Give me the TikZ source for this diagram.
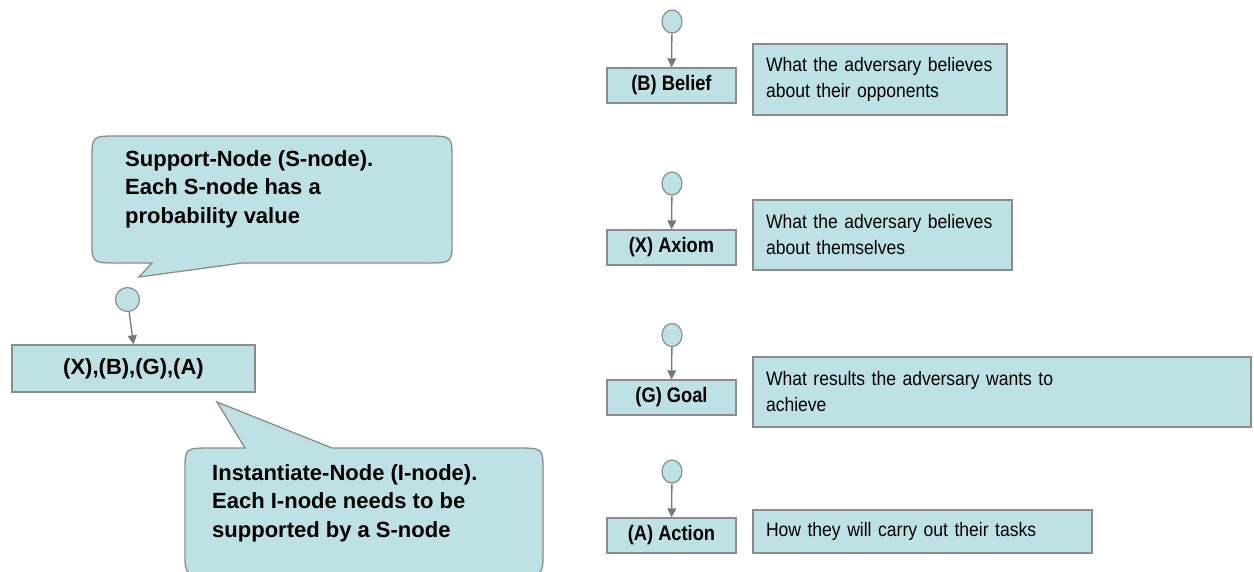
\documentclass[tikz,border=0pt]{standalone}
\usepackage{fontspec}
\setmainfont{Liberation Sans}
\newfontfamily\descfont{Liberation Sans}[FakeStretch=0.90]
\newfontfamily\lblfont{Liberation Sans}[FakeStretch=0.87]
\usetikzlibrary{arrows.meta,shapes.geometric}
\definecolor{boxfill}{RGB}{190,225,229}
\definecolor{boxline}{RGB}{140,140,140}
\definecolor{arrgray}{RGB}{120,120,120}
\hyphenpenalty=10000
\exhyphenpenalty=10000
\begin{document}
\begin{tikzpicture}[x=1pt,y=-1pt,
  lblbox/.style={draw=boxline, fill=boxfill, line width=1.3pt, minimum width=129pt,
    minimum height=35pt, inner sep=0pt, font=\lblfont\bfseries\fontsize{21}{24}\selectfont},
  descbox/.style={draw=boxline, fill=boxfill, line width=1.3pt, inner xsep=13pt,
    inner ysep=0pt, align=left, font=\descfont\fontsize{19.5}{26}\selectfont},
  snode/.style={ellipse, draw=boxline, fill=boxfill, line width=1.2pt,
    minimum width=20pt, minimum height=23pt, inner sep=0pt},
  arr/.style={draw=arrgray, line width=1.3pt, -{Triangle[length=9pt,width=9pt]}},
  bubble/.style={draw=boxline, fill=boxfill, line width=1.3pt},
  calltext/.style={inner sep=0pt, align=left, font=\bfseries\fontsize{22}{28.5}\selectfont}
]
\path[use as bounding box, fill=white] (0,0) rectangle (1254,571);

% callout bubbles
\path[bubble] (152,263) -- (119,263) .. controls (92,263) .. (92,241) -- (92,158)
  .. controls (92,136) .. (119,136) -- (425,136) .. controls (452,136) .. (452,158)
  -- (452,241) .. controls (452,263) .. (425,263) -- (242,263) -- (139,277) -- cycle;
\node[calltext, anchor=west] (stext) at (125,189)
  {Support-Node (S-node).\\Each S-node has a\\probability value};

\path[bubble] (245,448) -- (212,448) .. controls (185,448) .. (185,470) -- (185,553)
  .. controls (185,575) .. (212,575) -- (516,575) .. controls (543,575) .. (543,553)
  -- (543,470) .. controls (543,448) .. (516,448) -- (332,448) -- (217,402) -- cycle;
\node[calltext, anchor=west] (itext) at (212,503)
  {Instantiate-Node (I-node).\\Each I-node needs to be\\supported by a S-node};

% left example
\node[snode, minimum width=24pt, minimum height=24pt] (sc) at (127.5,299.5) {};
\node[draw=boxline, fill=boxfill, line width=1.3pt, minimum width=243pt, minimum height=47pt,
  inner sep=0pt, font=\bfseries\fontsize{22}{26}\selectfont] (ibox) at (133.5,368.5)
  {(X),(B),(G),(A)};
\draw[arr] (sc) -- (ibox.north);

% right column
\node[snode] (cb) at (672,21.5) {};
\node[lblbox] (bb) at (671.5,85.5) {(B) Belief};
\draw[arr] (cb) -- (bb);
\node[descbox, minimum width=254pt, text width=228pt, minimum height=71pt] (db) at (880,79.5)
  {What the adversary believes\\about their opponents};

\node[snode] (cx) at (672,183.5) {};
\node[lblbox] (bx) at (671.5,247.5) {(X) Axiom};
\draw[arr] (cx) -- (bx);
\node[descbox, minimum width=259pt, text width=233pt, minimum height=70pt] (dx) at (882.5,235)
  {What the adversary believes\\about themselves};

\node[snode] (cg) at (672,335) {};
\node[lblbox] (bg) at (671.5,397.5) {(G) Goal};
\draw[arr] (cg) -- (bg);
\node[descbox, minimum width=498pt, text width=472pt, minimum height=70pt] (dg) at (1002,392)
  {What results the adversary wants to\\achieve};

\node[snode] (ca) at (672,471.5) {};
\node[lblbox] (ba) at (671.5,535.5) {(A) Action};
\draw[arr] (ca) -- (ba);
\node[descbox, minimum width=339pt, text width=313pt, minimum height=43pt] (da) at (922.5,531.5)
  {How they will carry out their tasks};
\end{tikzpicture}
\end{document}
